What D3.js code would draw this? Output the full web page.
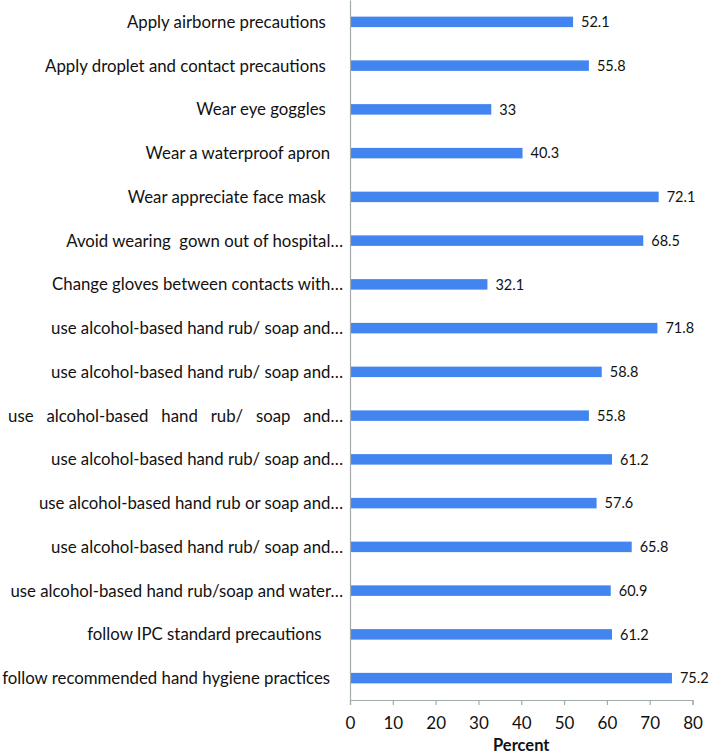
<!DOCTYPE html>
<html><head><meta charset="utf-8">
<script src="https://cdn.jsdelivr.net/npm/d3@7"></script>
<style>
body{margin:0;background:#fff;}
text{white-space:pre;}
</style>
</head><body>
<svg id="chart" width="709" height="756"></svg>
<script>
const categories = [
  "Apply airborne precautions    ",
  "Apply droplet and contact precautions    ",
  "Wear eye goggles    ",
  "Wear a waterproof apron   ",
  "Wear appreciate face mask    ",
  "Avoid wearing  gown out of hospital…",
  "Change gloves between contacts with…",
  "use alcohol-based hand rub/ soap and…",
  "use alcohol-based hand rub/ soap and…",
  "use   alcohol-based   hand   rub/   soap   and…",
  "use alcohol-based hand rub/ soap and…",
  "use alcohol-based hand rub or soap and…",
  "use alcohol-based hand rub/ soap and…",
  "use alcohol-based hand rub/soap and water…",
  "follow IPC standard precautions     ",
  "follow recommended hand hygiene practices   "
];
const values = [52.1, 55.8, 33, 40.3, 72.1, 68.5, 32.1, 71.8, 58.8, 55.8, 61.2, 57.6, 65.8, 60.9, 61.2, 75.2];
const valueLabels = ["52.1","55.8","33","40.3","72.1","68.5","32.1","71.8","58.8","55.8","61.2","57.6","65.8","60.9","61.2","75.2"];
const xTicks = [0,10,20,30,40,50,60,70,80];
const xTitle = "Percent";

const svg = d3.select("#chart");
const font = "Lato, 'Open Sans', sans-serif";
const mLeft = 350, mRight = 692.5, mTop = 0, mBottom = 700;

const x = d3.scaleLinear().domain([0, 80]).range([mLeft, mRight]);
const idx = d3.range(categories.length);
const y = d3.scaleBand().domain(idx).range([mTop, mBottom]).paddingInner(0.76).paddingOuter(0.38);

// bars
svg.append("g").selectAll("rect").data(idx).join("rect")
  .attr("x", x(0))
  .attr("y", i => y(i))
  .attr("width", i => x(values[i]) - x(0))
  .attr("height", y.bandwidth())
  .attr("fill", "#4285f0");

// value labels
svg.append("g").selectAll("text").data(idx).join("text")
  .attr("x", i => x(values[i]) + 8)
  .attr("y", i => y(i) + y.bandwidth() / 2)
  .attr("dy", "0.36em")
  .attr("font-family", font)
  .attr("font-size", 14.5)
  .attr("fill", "#111")
  .text(i => valueLabels[i]);

// category labels
svg.append("g").selectAll("text").data(idx).join("text")
  .attr("x", 343)
  .attr("y", i => y(i) + y.bandwidth() / 2)
  .attr("dy", "0.36em")
  .attr("text-anchor", "end")
  .attr("font-family", font)
  .attr("font-size", 16.8)
  .attr("fill", "#111")
  .text(i => categories[i]);

// x axis
const xAxis = d3.axisBottom(x).tickValues(xTicks).tickSize(5).tickPadding(12).tickFormat(d3.format("d"));
const gx = svg.append("g").attr("transform", `translate(0,${mBottom})`).call(xAxis);
gx.select(".domain").attr("stroke", "#a3abab").attr("stroke-width", 1.2);
gx.selectAll(".tick line").attr("stroke", "#a3abab").attr("stroke-width", 1.2);
gx.selectAll(".tick text").attr("font-family", font).attr("font-size", 17).attr("fill", "#111");

// y axis line
const yAxis = d3.axisLeft(y).tickSize(0).tickFormat(() => "");
const gy = svg.append("g").attr("transform", `translate(${mLeft},0)`).call(yAxis);
gy.select(".domain").attr("stroke", "#a3abab").attr("stroke-width", 1.2);

svg.append("text")
  .attr("x", (mLeft + mRight) / 2)
  .attr("y", 751)
  .attr("text-anchor", "middle")
  .attr("font-family", font)
  .attr("font-size", 16.5)
  .attr("font-weight", "bold")
  .attr("fill", "#111")
  .text(xTitle);
</script>
</body></html>
